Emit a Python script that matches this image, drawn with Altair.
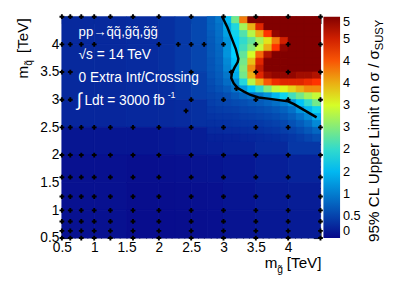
import altair as alt
import pandas as pd

FONT = "Liberation Sans"

# ---------------- data ----------------
# coarse background cells (rows top -> bottom)
CX_EDGES = [0.5, 1.0, 1.5, 2.0, 2.25, 2.5, 2.75, 3.0, 3.5, 4.0, 4.5]
CY_EDGES = [4.5, 4.0, 3.5, 3.0, 2.5, 2.0, 1.5, 1.0, 0.5]
COARSE = [
    [0.28, 0.28, 0.30, 0.34, 0.42, 0.55, 0.75, 2.0, 5.0, 5.0],
    [0.28, 0.28, 0.30, 0.34, 0.42, 0.52, 0.70, 2.0, 4.0, 5.0],
    [0.28, 0.28, 0.30, 0.32, 0.38, 0.46, 0.60, 1.5, 3.0, 3.5],
    [0.26, 0.26, 0.27, 0.28, 0.30, 0.34, 0.40, 0.5, 0.7, 1.3],
    [0.12, 0.12, 0.12, 0.14, 0.16, 0.18, 0.20, 0.22, 0.28, 0.40],
    [0.08, 0.08, 0.06, 0.07, 0.08, 0.10, 0.11, 0.14, 0.20, 0.24],
    [0.08, 0.08, 0.05, 0.05, 0.06, 0.07, 0.08, 0.11, 0.16, 0.18],
    [0.08, 0.08, 0.04, 0.04, 0.05, 0.06, 0.07, 0.10, 0.14, 0.16],
]

# finer cells in the upper-right corner (rows top -> bottom)
FX_EDGES = [2.75, 2.875, 3.0, 3.125, 3.25, 3.375, 3.5, 3.625, 3.75, 3.875,
            4.0, 4.125, 4.25, 4.375, 4.5]
FY_EDGES = [4.5, 4.375, 4.25, 4.125, 4.0, 3.875, 3.75, 3.625, 3.5, 3.375,
            3.25, 3.125, 3.0, 2.875, 2.75, 2.625, 2.5, 2.375, 2.25]
FINE = [
    [0.75, 0.95, 1.5, 2.4, 3.8, 5.0, 5.5, 5.5, 5.5, 5.5, 5.5, 5.5, 5.5, 5.5],
    [0.75, 0.90, 1.4, 1.9, 2.7, 3.5, 4.4, 5.1, 5.5, 5.5, 5.5, 5.5, 5.5, 5.5],
    [0.72, 0.88, 1.3, 1.8, 2.2, 2.8, 3.5, 4.2, 4.9, 5.4, 5.5, 5.5, 5.5, 5.5],
    [0.70, 0.85, 1.2, 1.7, 2.0, 2.3, 2.7, 3.2, 3.8, 4.5, 5.1, 5.5, 5.5, 5.5],
    [0.68, 0.82, 1.2, 1.7, 2.1, 2.5, 2.9, 3.5, 4.2, 4.9, 5.4, 5.5, 5.5, 5.5],
    [0.68, 0.80, 1.2, 1.7, 2.3, 3.0, 3.9, 4.7, 5.2, 5.5, 5.5, 5.5, 5.5, 5.5],
    [0.65, 0.78, 1.1, 1.6, 2.4, 3.4, 4.4, 5.0, 5.4, 5.4, 5.4, 5.4, 5.4, 5.4],
    [0.65, 0.75, 1.05, 1.5, 2.5, 3.7, 4.6, 5.0, 5.2, 5.2, 5.2, 5.2, 5.2, 5.2],
    [0.62, 0.72, 0.95, 1.4, 2.4, 3.5, 4.4, 4.8, 4.9, 4.9, 4.9, 4.8, 4.8, 4.7],
    [0.58, 0.68, 0.85, 1.15, 1.9, 2.8, 3.5, 4.0, 4.3, 4.4, 4.4, 4.4, 4.3, 4.2],
    [0.55, 0.62, 0.72, 0.9, 1.25, 1.6, 2.0, 2.5, 2.9, 3.1, 3.3, 3.5, 3.7, 3.7],
    [0.50, 0.55, 0.60, 0.7, 0.8, 0.9, 1.0, 1.2, 1.5, 1.8, 2.1, 2.4, 2.7, 2.9],
    [0.46, 0.50, 0.52, 0.56, 0.60, 0.66, 0.70, 0.78, 0.88, 1.0, 1.2, 1.6, 2.0, 2.4],
    [0.42, 0.44, 0.46, 0.48, 0.52, 0.55, 0.58, 0.62, 0.68, 0.76, 0.9, 1.2, 1.5, 1.8],
    [0.38, 0.39, 0.40, 0.42, 0.45, 0.47, 0.50, 0.54, 0.58, 0.64, 0.74, 0.9, 1.1, 1.4],
    [0.34, 0.35, 0.36, 0.38, 0.39, 0.40, 0.42, 0.45, 0.49, 0.54, 0.62, 0.72, 0.85, 1.1],
    [0.28, 0.28, 0.30, 0.30, 0.32, 0.33, 0.35, 0.38, 0.40, 0.45, 0.50, 0.58, 0.68, 0.8],
    [0.22, 0.22, 0.23, 0.23, 0.25, 0.26, 0.28, 0.30, 0.32, 0.35, 0.40, 0.45, 0.52, 0.6],
]

# grid points (signal model points)
FULL_COLS = [0.5, 0.63, 0.8, 1.0, 1.25, 1.6, 2.0, 2.5, 3.0, 3.5, 4.0, 4.5]
POINT_ROWS = [
    (0.5, FULL_COLS), (0.63, FULL_COLS), (0.8, FULL_COLS), (1.0, FULL_COLS),
    (1.25, FULL_COLS), (1.6, FULL_COLS), (2.0, FULL_COLS), (2.5, FULL_COLS),
    (3.0, [0.5, 0.63, 2.5, 3.0, 3.5, 4.0, 4.5]),
    (3.5, [0.5, 0.63, 2.5, 3.12, 3.5, 4.0, 4.5]),
    (4.0, [0.5, 0.63, 0.8, 1.0, 2.0, 2.3, 2.5, 2.7, 3.0, 3.5, 4.0, 4.5]),
    (4.5, FULL_COLS),
]
EXTRA_X = [2.42, 3.2]
EXTRA_Y = [2.8, 3.2]

# exclusion contour
CONT_X = [2.98, 3.06, 3.13, 3.19, 3.23, 3.22, 3.17, 3.13, 3.12, 3.16, 3.22,
          3.31, 3.41, 3.54, 3.69, 4.0, 4.09, 4.44]
CONT_Y = [4.5, 4.31, 4.10, 3.92, 3.74, 3.68, 3.58, 3.48, 3.39, 3.29, 3.21,
          3.15, 3.09, 3.04, 3.02, 2.97, 2.92, 2.68]

X_LABELS = [0.5, 1.0, 1.5, 2.0, 2.5, 3.0, 3.5, 4.0]
Y_LABELS = [0.5, 1.0, 1.5, 2.0, 2.5, 3.0, 3.5, 4.0]
CB_LABELS = [0, 0.5, 1, 1.5, 2, 2.5, 3, 3.5, 4, 4.5, 5]
MINOR = [round(0.5 + 0.1 * i, 2) for i in range(41)]

PAL_STOPS = [0, 1.7, 3.05, 4.2, 5]
PAL_COLORS = ["#08088a", "#00cfff", "#deff1f", "#ff3300", "#820000"]

# ---------------- tables ----------------
def cells(xe, ye, vals):
    rows = []
    for i, r in enumerate(vals):
        for j, v in enumerate(r):
            rows.append({"x0": xe[j], "x1": xe[j + 1], "y0": ye[i + 1], "y1": ye[i], "v": v})
    return pd.DataFrame(rows)

coarse_df = cells(CX_EDGES, CY_EDGES, COARSE)
fine_df = cells(FX_EDGES, FY_EDGES, FINE)

pts = [{"mx": x, "my": y} for y, cols in POINT_ROWS for x in cols]
pts += [{"mx": x, "my": y} for x, y in zip(EXTRA_X, EXTRA_Y)]
pts_df = pd.DataFrame(pts)

cont_df = pd.DataFrame({"cx": CONT_X, "cy": CONT_Y, "i": list(range(len(CONT_X)))})
one = pd.DataFrame({"k": [0]})

W, H = 264, 226
xs = alt.Scale(domain=[0.5, 4.5], nice=False, zero=False)
ys = alt.Scale(domain=[0.5, 4.5], nice=False, zero=False)
cscale = alt.Scale(domain=PAL_STOPS, range=PAL_COLORS, clamp=True, interpolate="rgb")
legend = alt.Legend(type="gradient", orient="none", legendX=267, legendY=0,
                    direction="vertical", gradientLength=H, gradientThickness=17,
                    values=CB_LABELS, format="~g", labelFontSize=13, labelFont=FONT,
                    labelColor="black", labelOffset=3, title=None, gradientStrokeWidth=0)

tick_size = {"condition": {"test": "abs(datum.value*2 - round(datum.value*2)) < 0.01",
                           "value": 7}, "value": 3.5}

def inner_axis(orient, offset):
    return alt.Axis(orient=orient, offset=offset, values=MINOR, tickSize=tick_size,
                    labels=False, domain=False, grid=False, title=None,
                    tickColor="black", tickWidth=1)

seam = alt.ExprRef(expr="scale('color', datum.v)")

coarse = alt.Chart(coarse_df).mark_rect(strokeWidth=0.8, stroke=seam).encode(
    x=alt.X("x0:Q", scale=xs, axis=alt.Axis(orient="bottom", values=X_LABELS, format="~g",
            labelFlush=False, ticks=False, domain=False, grid=False, title=None,
            labelFont=FONT, labelFontSize=14, labelPadding=3, labelColor="black")),
    x2="x1:Q",
    y=alt.Y("y0:Q", scale=ys, axis=alt.Axis(orient="left", values=Y_LABELS, format="~g",
            ticks=False, domain=False, grid=False, title=None, labelFlush=False,
            labelFont=FONT, labelFontSize=14, labelPadding=3, labelColor="black")),
    y2="y1:Q",
    color=alt.Color("v:Q", scale=cscale, legend=legend),
)

fine = alt.Chart(fine_df).mark_rect(strokeWidth=0.8, stroke=seam).encode(
    x=alt.X("x0:Q", scale=xs, axis=inner_axis("top", -H)),
    x2="x1:Q",
    y=alt.Y("y0:Q", scale=ys, axis=inner_axis("right", -W)),
    y2="y1:Q",
    color=alt.Color("v:Q", scale=cscale, legend=legend),
)

contour = alt.Chart(cont_df).mark_line(color="black", strokeWidth=2.5).encode(
    x=alt.X("cx:Q", scale=xs, axis=inner_axis("bottom", -H)),
    y=alt.Y("cy:Q", scale=ys, axis=inner_axis("left", -W)),
    order="i:Q",
)

points = alt.Chart(pts_df).mark_point(shape="cross", filled=True, size=24,
                                      color="black", opacity=1).encode(
    x=alt.X("mx:Q", scale=xs, axis=None),
    y=alt.Y("my:Q", scale=ys, axis=None),
)


def label(txt, x, y, size, color="white", angle=0, align="left", baseline="alphabetic"):
    kw = dict(align=align, baseline=baseline, fontSize=size, font=FONT, color=color)
    if angle:
        kw["angle"] = angle
    return alt.Chart(one).mark_text(**kw).encode(
        x=alt.value(x), y=alt.value(y), text=alt.value(txt))


texts = [
    label("pp\u2192q\u0303q\u0303,g\u0303q\u0303,g\u0303g\u0303", 17, 20, 13.5),
    label("\u221as = 14 TeV", 17, 43, 14),
    label("0 Extra Int/Crossing", 17, 67, 14),
    label("\u222b", 15, 91, 19),
    label("Ldt = 3000 fb", 23, 90, 14),
    label("-1", 108, 83, 9),
    # x axis title
    label("m", 207, 257, 15.5, color="black"),
    label("g\u0303", 220, 262, 10.5, color="black"),
    label("[TeV]", 265, 257, 15.5, color="black", align="right"),
    # y axis title
    label("m", -35, 63, 15.5, color="black", angle=270),
    label("q\u0303", -31, 50, 10.5, color="black", angle=270),
    label("[TeV]", -35, 37, 15.5, color="black", angle=270),
    # colour bar title
    label("95% CL Upper Limit on \u03c3 / \u03c3", 324, 34, 15.5, color="black", angle=270,
          align="right"),
    label("SUSY", 328, 3, 11.5, color="black", angle=270, align="right"),
]

chart = alt.layer(coarse, fine, contour, points, *texts).resolve_axis(
    x="independent", y="independent"
).properties(
    width=W, height=H,
    autosize=alt.AutoSizeParams(type="none"),
    padding={"left": 55, "top": 6, "right": 72, "bottom": 44},
).configure_view(stroke="black", strokeWidth=1).configure(background="white")

chart.save("out.html", embed_options={"renderer": "svg", "actions": False})
